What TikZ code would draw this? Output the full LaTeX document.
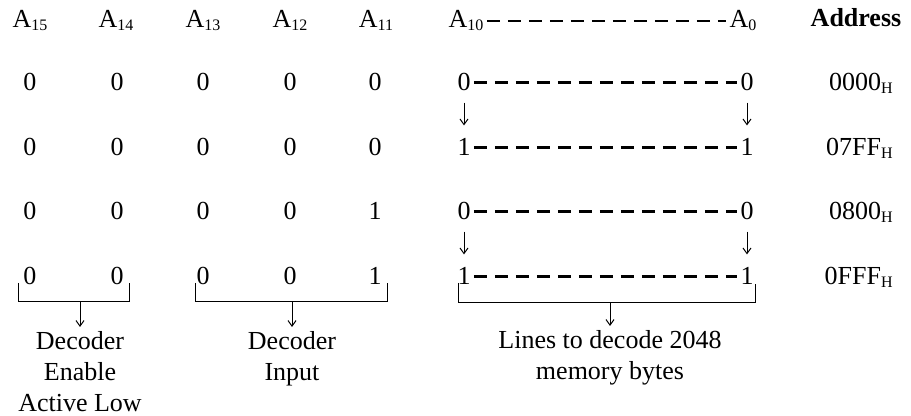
\documentclass[tikz,border=0pt]{standalone}
\usepackage{fontspec}
\setmainfont{Liberation Serif}
\usetikzlibrary{arrows.meta}
\newcommand{\lowidx}[1]{\raisebox{-1.5pt}{\fontsize{8}{8}\selectfont #1}}

\begin{document}
\begin{tikzpicture}[
  x=0.5pt, y=-0.5pt,
  font=\fontsize{13}{15.5}\selectfont,
  bit/.style={
    inner sep=1.5pt,
    anchor=base
  },
  hdr/.style={
    bit
  },
  dashline/.style={
    draw,
    line width=1.1pt,
    dash pattern=on 6.5pt off 4pt
  },
  bracket/.style={
    draw,
    line width=0.5pt
  },
  arr/.style={
    -{Straight Barb[length=2.8pt,width=4pt]},
    line width=0.5pt
  },
  lbl/.style={
    align=center,
    anchor=north,
    inner sep=2pt
  }
]
\useasboundingbox (0,0) rectangle (911,416);

% header row
\foreach \n/\x in {15/30,14/116,13/203,12/290,11/376}
  \node[hdr] (h\n) at (\x,28) {A\lowidx{\n}};
\node[hdr] (h10) at (466,28) {A\lowidx{10}};
\node[hdr] (h0) at (743,28) {A\lowidx{0}};
\node[hdr, font=\fontsize{13}{15.5}\selectfont\bfseries] (haddr) at (856,27) {Address};
\draw[dashline] (h10) -- (h0);

% bit rows
\foreach \r/\yy/\lo/\hi/\addrv in {1/91/0/0/0000, 2/156/0/1/07FF, 3/220/1/0/0800, 4/285/1/1/0FFF} {
  \foreach \n/\x in {15/30,14/117,13/203,12/290}
    \node[bit] (b\n-\r) at (\x,\yy) {0};
  \node[bit] (b11-\r) at (375,\yy) {\lo};
  \node[bit] (b10-\r) at (464,\yy) {\hi};
  \node[bit] (b0-\r) at (747,\yy) {\hi};
  \draw[dashline] (b10-\r) -- (b0-\r);
  \node[bit, anchor=base east] (v\r) at (896,\yy) {\addrv\lowidx{H}};
}

% range arrows
\foreach \a/\b in {1/2,3/4} {
  \draw[arr, shorten <=4pt, shorten >=5pt] (b10-\a) -- (b10-\b);
  \draw[arr, shorten <=4pt, shorten >=5pt] (b0-\a) -- (b0-\b);
}

% brackets and labels
\draw[bracket] (18,283) -- (18,302) -- (129,302) -- (129,283);
\coordinate (enc) at (80,302);
\node[lbl] (enclbl) at (80,327) {Decoder\\Enable\\Active Low};
\draw[arr] (enc) -- (enclbl);

\draw[bracket] (195,283) -- (195,302) -- (387,302) -- (387,283);
\coordinate (inp) at (292,302);
\node[lbl] (inplbl) at (292,327) {Decoder\\Input};
\draw[arr] (inp) -- (inplbl);

\draw[bracket] (458,283) -- (458,303) -- (755,303) -- (755,284);
\coordinate (mem) at (610,303);
\node[lbl] (memlbl) at (610,326) {Lines to decode 2048\\memory bytes};
\draw[arr] (mem) -- (memlbl);

\end{tikzpicture}
\end{document}
